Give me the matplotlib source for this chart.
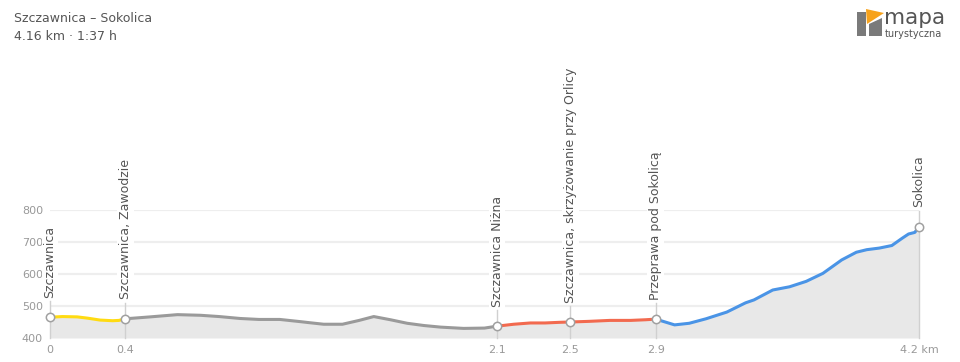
import matplotlib.pyplot as plt
from matplotlib.patches import Polygon

# profil trasy: dystans [km] i wysokość [m n.p.m.]
dist = [0.00, 0.06, 0.13, 0.18, 0.24, 0.30, 0.33, 0.36,
        0.48, 0.61, 0.72, 0.81, 0.91, 1.00, 1.10, 1.20, 1.24, 1.31, 1.40,
        1.48, 1.55, 1.63, 1.71, 1.79, 1.87, 1.98, 2.08, 2.14,
        2.22, 2.30, 2.37, 2.44, 2.49,
        2.58, 2.68, 2.78, 2.85, 2.90,
        2.99, 3.06, 3.14, 3.24, 3.33, 3.37, 3.46, 3.54, 3.62, 3.70,
        3.79, 3.86, 3.91, 3.97, 4.03, 4.08, 4.11, 4.14, 4.16]
elev = [465, 467, 466, 462, 456, 454, 455, 460,
        466, 473, 471, 467, 461, 458, 458, 451, 448, 443, 443,
        455, 467, 457, 446, 439, 434, 430, 431, 437,
        443, 447, 447, 449, 450,
        452, 455, 455, 457, 459,
        441, 446, 460, 481, 510, 519, 550, 560, 577, 602,
        644, 668, 676, 681, 689, 712, 725, 730, 748]

# punkty na trasie (indeksy w profilu)
wp_idx = [0, 7, 27, 32, 37, 56]
wp_names = ["Szczawnica", "Szczawnica, Zawodzie", "Szczawnica Niżna",
            "Szczawnica, skrzyżowanie przy Orlicy", "Przeprawa pod Sokolicą",
            "Sokolica"]
seg_colors = ["#ffdb12", "#9a9a9a", "#f26a4f", "#f26a4f", "#4a94e6"]

yticks = [400, 500, 600, 700, 800]

fig = plt.figure(figsize=(9.6, 3.62), dpi=100)
ax = fig.add_axes([50 / 960, 24 / 362, 869 / 960, 128 / 362])

ax.set_xlim(0, dist[-1])
ax.set_ylim(400, 800)

for y in yticks:
    ax.axhline(y, color="#eeeeee", lw=1.6, zorder=0)

ax.fill_between(dist, elev, 400, color="#e8e8e8", lw=0, zorder=1)

# kolorowe odcinki między punktami
for i, c in enumerate(seg_colors):
    a, b = wp_idx[i], wp_idx[i + 1]
    ax.plot(dist[a:b + 1], elev[a:b + 1], color=c, lw=2.2,
            solid_capstyle="round", zorder=3)

for i, name in zip(wp_idx, wp_names):
    x, y = dist[i], elev[i]
    ax.plot([x, x], [400, y + 50], color="#d0d0d0", lw=1, zorder=2,
            clip_on=False)
    ax.plot(x, y, "o", ms=6, mfc="white", mec="#a0a0a0", mew=1.1, zorder=4,
            clip_on=False)
    ax.annotate(name, (x, y), xytext=(0, 14), textcoords="offset points",
                rotation=90, ha="center", va="bottom", fontsize=9,
                color="#555555", zorder=5, annotation_clip=False,
                bbox=dict(boxstyle="square,pad=0.15", fc="white", ec="none"))

ax.set_yticks(yticks)
ax.set_xticks([dist[i] for i in wp_idx])
xl = [f"{dist[i]:.1f}" for i in wp_idx]
xl[0] = "0"
xl[-1] = xl[-1] + " km"
ax.set_xticklabels(xl)
ax.tick_params(length=0, labelsize=8, labelcolor="#999999", pad=5)
for s in ax.spines.values():
    s.set_visible(False)

# tytuł
fig.text(14 / 960, 1 - 19 / 362, "Szczawnica – Sokolica", fontsize=9,
         color="#555555", va="center")
fig.text(14 / 960, 1 - 37 / 362, "4.16 km · 1:37 h", fontsize=9,
         color="#555555", va="center")

# logo mapa turystyczna
W, H = 960, 362
def fp(px, py):
    return (px / W, 1 - py / H)

gray = Polygon([fp(857, 12), fp(866, 12), fp(866, 36), fp(857, 36)],
               closed=True, fc="#7a7a7a", ec="none", transform=fig.transFigure)
gray2 = Polygon([fp(869, 24), fp(882, 18), fp(882, 36), fp(869, 36)],
                closed=True, fc="#7a7a7a", ec="none", transform=fig.transFigure)
orange = Polygon([fp(866, 9), fp(884, 13), fp(867, 24)],
                 closed=True, fc="#f7a21b", ec="none", transform=fig.transFigure)
for p in (gray, gray2, orange):
    fig.add_artist(p)
fig.text(884 / W, 1 - 18 / H, "mapa", fontsize=15.5, color="#555555",
         va="center", ha="left")
fig.text(885 / W, 1 - 34 / H, "turystyczna", fontsize=7, color="#555555",
         va="center", ha="left")

fig.savefig("out.png", dpi=100)
